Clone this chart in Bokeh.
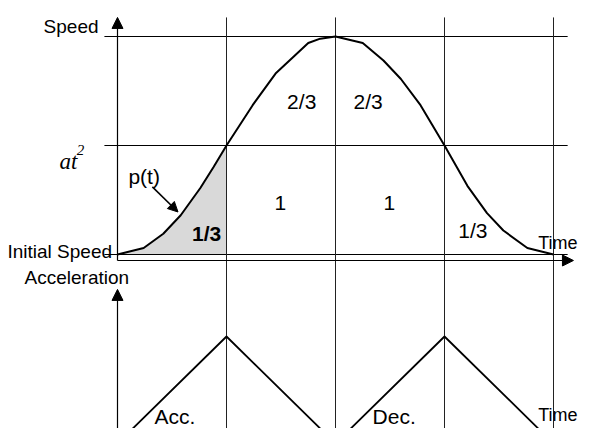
from bokeh.plotting import figure
from bokeh.models import Range1d, Arrow, NormalHead
from bokeh.core.properties import value
from bokeh.embed import file_html
from bokeh.resources import INLINE

# ---- data ----
time_curve = [0, 0.24, 0.42, 0.58, 0.76, 0.88, 1.0, 1.24, 1.45, 1.61, 1.75, 1.86, 2.0,
              2.25, 2.44, 2.6, 2.78, 3.0, 3.21, 3.39, 3.54, 3.76, 4.0]
speed_curve = [0, 0.06, 0.19, 0.36, 0.61, 0.80, 1.0, 1.37, 1.66, 1.81, 1.94, 1.98, 2.0,
               1.94, 1.78, 1.61, 1.37, 1.0, 0.63, 0.38, 0.22, 0.06, 0]
acc_time = [0, 1, 2, 3, 4]
acc_value = [0, 1, 0, 1, 0]
speed_levels = [0, 1, 2]          # initial speed, at^2, top speed
time_marks = [1, 2, 3, 4]
area_labels = ["1/3", "1", "2/3", "2/3", "1", "1/3"]

W, H = 578, 428
PX = 109.0     # pixels per unit (time & speed)
PA = 107.0     # pixels per unit of acceleration
X0, Y0, A0 = 117.0, 254.0, 443.0   # pixel origin of the axes

SANS = value("'Liberation Sans', Arial, sans-serif")
SERIF = value("'Liberation Serif', 'Times New Roman', serif")

p = figure(width=W, height=H,
           x_range=Range1d(-X0 / PX, (W - X0) / PX),
           y_range=Range1d((Y0 - H) / PX, Y0 / PX),
           output_backend="svg", toolbar_location=None,
           x_axis_location=None, y_axis_location=None, min_border=0)
p.grid.visible = False
p.outline_line_color = None
p.background_fill_color = "white"
p.extra_y_ranges = {"acc": Range1d((A0 - H) / PA, A0 / PA)}

# shaded area under the curve during the first phase
rise_t = [t for t in time_curve if t <= time_marks[0]]
rise_v = speed_curve[:len(rise_t)]
p.varea(x=rise_t, y1=[speed_levels[0]] * len(rise_t), y2=rise_v, fill_color="#d9d9d9")

# horizontal grid lines of the speed panel
for lv in speed_levels:
    p.line(x=[-0.12, 4.13], y=[lv, lv], line_color="black", line_width=1)

# vertical time lines through both panels
for tm in time_marks:
    p.line(x=[tm, tm], y=[2.175, -1.8], line_color="#222222", line_width=1)

# speed curve
p.line(x=time_curve, y=speed_curve, line_color="black", line_width=2)

# acceleration profile
p.line(x=acc_time, y=acc_value, y_range_name="acc", line_color="black", line_width=1.8)

# axes with arrows
head = dict(size=11, fill_color="black", line_color="black")
p.add_layout(Arrow(end=NormalHead(**head), x_start=0, y_start=-0.055, x_end=0, y_end=2.175,
                   line_color="black", line_width=1.2))
p.add_layout(Arrow(end=NormalHead(**head), x_start=0, y_start=-0.055, x_end=4.183, y_end=-0.055,
                   line_color="black", line_width=1.2))
p.add_layout(Arrow(end=NormalHead(**head), x_start=0, y_start=-0.02, x_end=0, y_end=1.44,
                   y_range_name="acc", line_color="black", line_width=1.2))
p.add_layout(Arrow(end=NormalHead(**head), x_start=0, y_start=0.01, x_end=4.183, y_end=0.01,
                   y_range_name="acc", line_color="black", line_width=1.2))

# p(t) pointer
p.add_layout(Arrow(end=NormalHead(size=10, fill_color="black", line_color="black"),
                   x_start=0.32, y_start=0.62, x_end=0.555, y_end=0.39,
                   line_color="black", line_width=1.6))

# labels of the speed panel
p.text(x=[-0.174], y=[2.09], text=["Speed"], text_font=SANS, text_font_size="19px",
       text_align="right", text_baseline="middle", text_color="black")
p.text(x=[-0.05], y=[0.03], text=["Initial Speed"], text_font=SANS, text_font_size="19px",
       text_align="right", text_baseline="alphabetic", text_color="black")
p.text(x=[-0.532], y=[0.855], text=["at"], text_font=SERIF,
       text_font_style="italic", text_font_size="23px", text_align="left",
       text_baseline="alphabetic", text_color="black")
p.text(x=[-0.375], y=[0.955], text=["2"], text_font=SERIF,
       text_font_style="italic", text_font_size="15px", text_align="left",
       text_baseline="alphabetic", text_color="black")
p.text(x=[0.1], y=[0.716], text=["p(t)"], text_font=SANS, text_font_size="21px",
       text_align="left", text_baseline="middle", text_color="black")
p.text(x=[(W - 1 - X0) / PX], y=[0.11], text=["Time"], text_font=SANS, text_font_size="18px",
       text_align="right", text_baseline="middle", text_color="black")

# area fractions
p.text(x=[0.817], y=[0.193], text=[area_labels[0]], text_font=SANS, text_font_size="21px",
       text_font_style="bold", text_align="center", text_baseline="middle", text_color="black")
p.text(x=[1.495, 1.69, 2.30, 2.495, 3.26], y=[0.477, 1.40, 1.40, 0.477, 0.22],
       text=area_labels[1:], text_font=SANS, text_font_size="21px",
       text_align="center", text_baseline="middle", text_color="black")

# labels of the acceleration panel
p.text(x=[-0.853], y=[-0.211], text=["Acceleration"], text_font=SANS, text_font_size="19px",
       text_align="left", text_baseline="middle", text_color="black")
p.text(x=[0.34, 2.34], y=[0.25, 0.25], text=["Acc.", "Dec."], y_range_name="acc",
       text_font=SANS, text_font_size="21px",
       text_align="left", text_baseline="middle", text_color="black")
p.text(x=[(W - 1 - X0) / PX], y=[0.27], text=["Time"], y_range_name="acc",
       text_font=SANS, text_font_size="18px",
       text_align="right", text_baseline="middle", text_color="black")

open("out.html", "w").write(file_html(p, INLINE))
